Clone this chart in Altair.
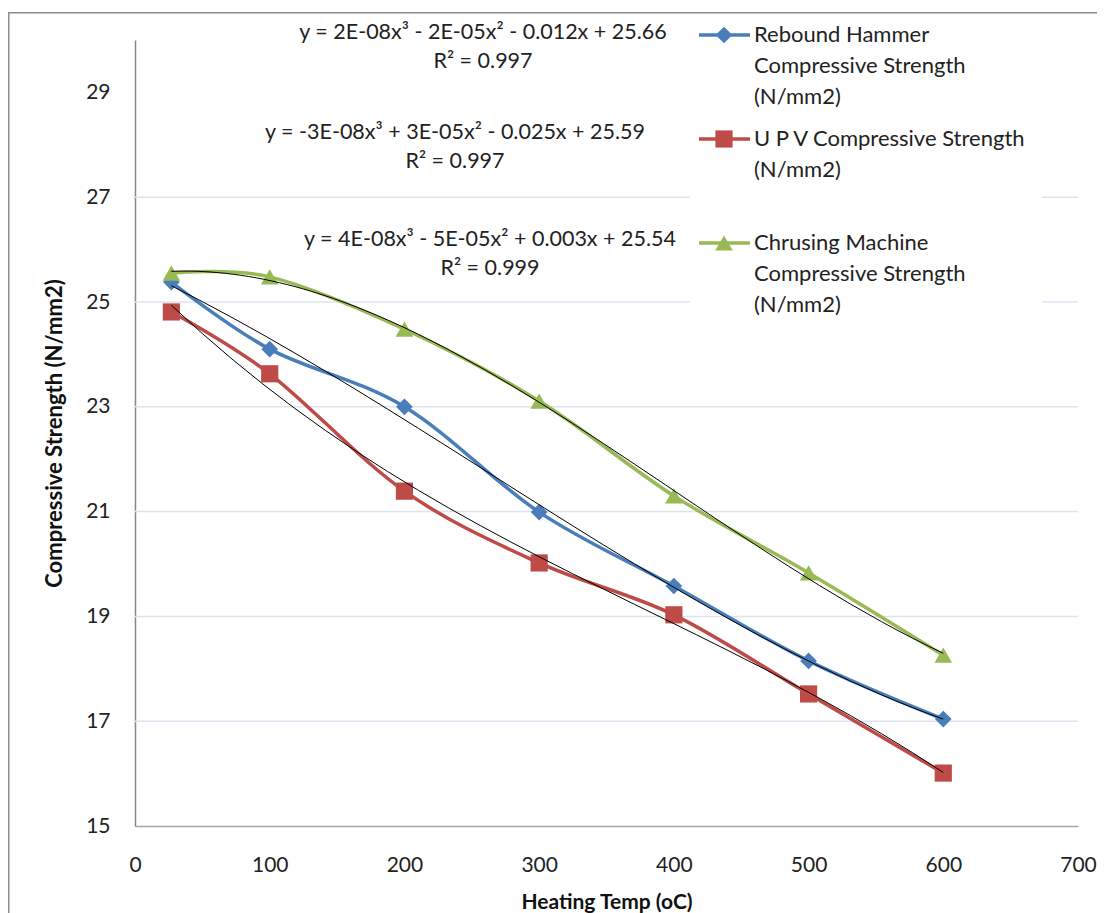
import altair as alt
import pandas as pd

# ---------------- data ----------------
temps = [27, 100, 200, 300, 400, 500, 600]
rebound = [25.38, 24.10, 23.00, 20.99, 19.58, 18.15, 17.04]
upv = [24.81, 23.63, 21.39, 20.02, 19.03, 17.52, 16.01]
crushing = [25.55, 25.48, 24.48, 23.11, 21.30, 19.83, 18.26]

series_names = [
    "Rebound Hammer Compressive Strength (N/mm2)",
    "U P V Compressive Strength (N/mm2)",
    "Chrusing Machine Compressive Strength (N/mm2)",
]
legend_text = [
    ["Rebound Hammer", "Compressive Strength", "(N/mm2)"],
    ["U P V Compressive Strength", "(N/mm2)"],
    ["Chrusing Machine", "Compressive Strength", "(N/mm2)"],
]
equations = [
    ["y = 2E-08x³ - 2E-05x² - 0.012x + 25.66", "R² = 0.997"],
    ["y = -3E-08x³ + 3E-05x² - 0.025x + 25.59", "R² = 0.997"],
    ["y = 4E-08x³ - 5E-05x² + 0.003x + 25.54", "R² = 0.999"],
]
colors = ["#4A7EBB", "#BE4B48", "#98B954"]
shapes = ["diamond", "square", "triangle-up"]
marker_sizes = [280, 310, 340]

x_ticks = list(range(0, 701, 100))
y_ticks = list(range(15, 30, 2))
grid_values = [17, 19, 21, 23, 25, 27]

# ---------------- layout ----------------
W, H = 943, 786
FONT = "Lato"
legend_rows_y = [-5, 99, 203]
legend_line_step = 31
eq_pos = [(348, -7), (320, 93), (355, 200)]
eq_line_step = 29

rows = []
for name, vals in zip(series_names, [rebound, upv, crushing]):
    for t, v in zip(temps, vals):
        rows.append({"temp": t, "value": v, "series": name})
df = pd.DataFrame(rows)

xscale = alt.Scale(domain=[0, 700], nice=False)
yscale = alt.Scale(domain=[15, 30], nice=False, zero=False)
cscale = alt.Scale(domain=series_names, range=colors)
sscale = alt.Scale(domain=series_names, range=shapes)
zscale = alt.Scale(domain=series_names, range=marker_sizes)

base = alt.Chart(df)

grid = alt.Chart(pd.DataFrame({"g": grid_values})).mark_rule(
    color="#DCE4F0", strokeWidth=1.5
).encode(
    y=alt.Y("g:Q", scale=yscale),
    x=alt.value(0),
    x2=alt.value(W),
)

lines = base.mark_line(interpolate="cardinal", strokeWidth=3.5).encode(
    x=alt.X(
        "temp:Q",
        scale=xscale,
        axis=alt.Axis(
            values=x_ticks, title="Heating Temp (oC)", grid=False, ticks=False,
            labelFlush=False, labelOverlap=False,
            labelPadding=28, titlePadding=16, domainColor="#A6A6A6", domainWidth=1.5,
            labelFontSize=21, titleFontSize=21, titleFontWeight="bold",
            labelColor="#222222", titleColor="#111111",
            labelFont=FONT, titleFont=FONT,
        ),
    ),
    y=alt.Y(
        "value:Q",
        scale=yscale,
        axis=alt.Axis(
            values=y_ticks, title="Compressive Strength (N/mm2)", grid=False,
            ticks=False, labelPadding=25, titlePadding=19, labelFlush=False,
            domainColor="#868686", domainWidth=1.5,
            labelFontSize=21, titleFontSize=22, titleFontWeight="bold",
            labelColor="#222222", titleColor="#111111",
            labelFont=FONT, titleFont=FONT,
        ),
    ),
    color=alt.Color("series:N", scale=cscale, legend=None),
    detail="series:N",
)

points = base.mark_point(filled=True, opacity=1).encode(
    x=alt.X("temp:Q", scale=xscale),
    y=alt.Y("value:Q", scale=yscale),
    color=alt.Color("series:N", scale=cscale, legend=None),
    shape=alt.Shape("series:N", scale=sscale, legend=None),
    size=alt.Size("series:N", scale=zscale, legend=None),
)

trend = base.transform_regression(
    "temp", "value", groupby=["series"], method="poly", order=3
).mark_line(color="black", strokeWidth=1).encode(
    x=alt.X("temp:Q", scale=xscale),
    y=alt.Y("value:Q", scale=yscale),
    detail="series:N",
)

# legend (custom)
leg_bg = alt.Chart(pd.DataFrame({"a": [0]})).mark_rect(color="white").encode(
    x=alt.value(555), x2=alt.value(907), y=alt.value(-27), y2=alt.value(282)
)
leg_sym = pd.DataFrame({"series": series_names, "ly": legend_rows_y})
leg_rule = alt.Chart(leg_sym).mark_rule(strokeWidth=3.5).encode(
    x=alt.value(564), x2=alt.value(615),
    y=alt.Y("ly:Q", scale=None),
    color=alt.Color("series:N", scale=cscale, legend=None),
)
leg_pt = alt.Chart(leg_sym).mark_point(filled=True, opacity=1).encode(
    x=alt.value(589),
    y=alt.Y("ly:Q", scale=None),
    color=alt.Color("series:N", scale=cscale, legend=None),
    shape=alt.Shape("series:N", scale=sscale, legend=None),
    size=alt.Size("series:N", scale=zscale, legend=None),
)
leg_rows = []
for base_y, lines_txt in zip(legend_rows_y, legend_text):
    for i, t in enumerate(lines_txt):
        leg_rows.append({"t": t, "ty": base_y + i * legend_line_step})
leg_txt = alt.Chart(pd.DataFrame(leg_rows)).mark_text(
    align="left", baseline="middle", fontSize=22, font=FONT, color="#222222"
).encode(
    x=alt.value(619), y=alt.Y("ty:Q", scale=None), text="t:N"
)

# equations
eq_rows = []
for (ex, ey), pair in zip(eq_pos, equations):
    for i, t in enumerate(pair):
        eq_rows.append({"t": t, "ex": ex, "ey": ey + i * eq_line_step})
eq_txt = alt.Chart(pd.DataFrame(eq_rows)).mark_text(
    align="center", baseline="middle", fontSize=21.5, font=FONT, color="#222222"
).encode(
    x=alt.X("ex:Q", scale=None), y=alt.Y("ey:Q", scale=None), text="t:N"
)

# chart-area border: only the left and top edges fall inside the picture
border = alt.Chart(pd.DataFrame({"a": [0]})).mark_rect(
    fill=None, stroke="#8C8C8C", strokeWidth=1.5
).encode(
    x=alt.value(-126.25), x2=alt.value(W + 60), y=alt.value(-27.25), y2=alt.value(H + 200)
)

chart = alt.layer(
    grid, lines, points, trend, leg_bg, leg_rule, leg_pt, leg_txt, eq_txt, border
).properties(
    width=W, height=H,
    autosize=alt.AutoSizeParams(type="none"),
    padding={"left": 127, "top": 32, "right": 19, "bottom": 100},
    background="white",
).configure_view(strokeWidth=0)

chart.save("out.html", embed_options={"renderer": "svg", "actions": False})
